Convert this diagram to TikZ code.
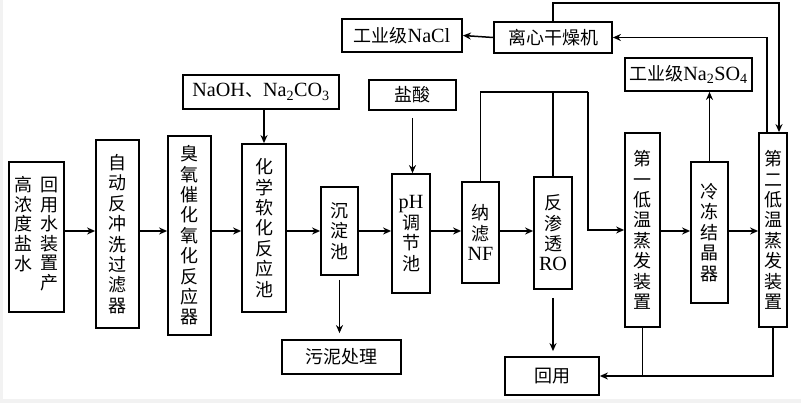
\documentclass[tikz,border=0pt]{standalone}
\usepackage{fontspec}
\setmainfont{Liberation Serif}[Scale=1.12]
\newfontfamily\cjk{Noto Sans CJK SC}
\usepackage{tikz}
\usetikzlibrary{arrows.meta,positioning,calc}

\begin{document}
\begin{tikzpicture}[x=1pt,y=-1pt,
  box/.style={draw,line width=1.8pt,inner sep=0pt,align=center,font={\cjk\fontsize{18}{20.4}\selectfont}},
  txt/.style={inner sep=0pt,align=center,font={\cjk\fontsize{18}{19.6}\selectfont}},
  arr/.style={-{Stealth[length=8pt,width=7pt]},line width=1.5pt},
  pipe/.style={line width=1.2pt}]
  \useasboundingbox (0,0) rectangle (801,403);
  \fill[gray!10](0,0)rectangle(801,403);
  \fill[white](3,0)rectangle(801,399);
  \coordinate (flow) at (0,231);
  % main line
  \node[box,minimum width=55pt,minimum height=150pt] (feed) at (36.5,237) {};
  \node[txt] (feedl) at (23,224) {高\\浓\\度\\盐\\水};
  \node[txt] (feedr) at (49,234) {回\\用\\水\\装\\置\\产};
  \node[box,minimum width=43pt,minimum height=188pt] (filter) at (117.5,234) {自\\动\\反\\冲\\洗\\过\\滤\\器};
  \node[box,minimum width=43pt,minimum height=199pt] (ozone) at (189.5,235.5) {臭\\氧\\催\\化\\氧\\化\\反\\应\\器};
  \node[box,minimum width=44pt,minimum height=168pt] (soft) at (264,228) {化\\学\\软\\化\\反\\应\\池};
  \node[box,minimum width=37pt,minimum height=88pt] (settle) at (339.5,231) {沉\\淀\\池};
  \node[box,minimum width=38pt,minimum height=119pt] (ph) at (411,233.5) {{\rmfamily pH}\\调\\节\\池};
  \node[box,minimum width=37pt,minimum height=101pt] (nf) at (480.5,232.5) {纳\\滤\\{\rmfamily NF}};
  \node[box,minimum width=38pt,minimum height=112pt] (ro) at (553,233) {反\\渗\\透\\{\rmfamily RO}};
  \node[box,minimum width=35pt,minimum height=194pt] (evapa) at (642.5,230) {第\\一\\低\\温\\蒸\\发\\装\\置};
  \node[box,minimum width=37pt,minimum height=141pt] (freeze) at (709.5,232.5) {冷\\冻\\结\\晶\\器};
  \node[box,minimum width=28pt,minimum height=194pt] (evapb) at (773,230) {第\\二\\低\\温\\蒸\\发\\装\\置};
  % side boxes
  \node[box,minimum width=156pt,minimum height=34pt] (alkali) at (261,92) {\rmfamily NaOH{\cjk 、}Na\textsubscript{2}CO\textsubscript{3}};
  \node[box,minimum width=87pt,minimum height=30pt] (acid) at (412.5,95) {盐酸};
  \node[box,minimum width=119pt,minimum height=34pt] (sludge) at (341.5,357) {污泥处理};
  \node[box,minimum width=94pt,minimum height=38pt] (reuse) at (552,376) {回用};
  \node[box,minimum width=127pt,minimum height=33pt] (sulfate) at (688.5,74.5) {工业级{\rmfamily Na\textsubscript{2}SO\textsubscript{4}}};
  \node[box,minimum width=118pt,minimum height=31pt] (dryer) at (553,37.5) {离心干燥机};
  \node[box,minimum width=120pt,minimum height=33pt] (salt) at (402,35.5) {工业级{\rmfamily NaCl}};
  % flow arrows
  \foreach \a/\b in {feed/filter,filter/ozone,ozone/soft,soft/settle,settle/ph,ph/nf,nf/ro,evapa/freeze,freeze/evapb}{
    \draw[arr] (\a.east |- flow) -- (\b.west |- flow);
  }
  \draw[arr] (alkali.south -| soft.north) -- (soft.north);
  \draw[arr,shorten <=7pt] (acid.south) -- (acid.south |- ph.north);
  \draw[arr,shorten <=4pt,shorten >=6pt] (settle.south) -- (settle.south |- sludge.north);
  \draw[arr,shorten <=8pt,shorten >=5pt] (ro.south) -- (ro.south |- reuse.north);
  % concentrate to first evaporator
  \coordinate (split) at (588,92);
  \draw[pipe] (nf.north) |- (split);
  \draw[pipe] (ro.north) -- (ro.north |- split);
  \draw[arr,line width=1.2pt] (split) |- (evapa.west);
  % recycled water
  \draw[pipe] (evapa.south) -- (evapa.south |- reuse.east);
  \draw[arr] (evapb.south) |- (reuse.east);
  % salt products
  \draw[arr] (freeze.north) -- (freeze.north |- sulfate.south);
  \draw[arr] ([xshift=-6pt]evapb.north) |- (dryer.east);
  \draw[arr] (dryer.west) -- (salt.east);
  \coordinate (loop) at (779,3);
  \draw[arr] (dryer.north) |- (loop) -- ([xshift=6pt]evapb.north);
\end{tikzpicture}
\end{document}
